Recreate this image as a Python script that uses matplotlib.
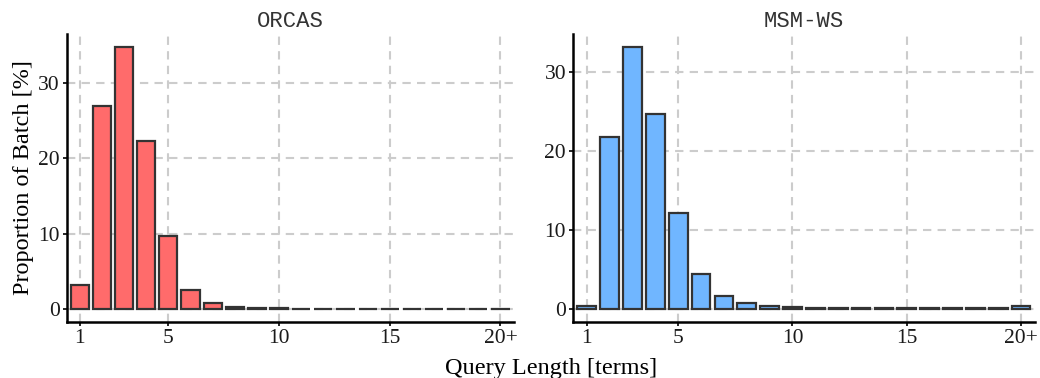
import matplotlib
matplotlib.use('Agg')
import matplotlib.pyplot as plt

# query length buckets 1..19 and 20+
lengths = list(range(1, 21))
tick_pos = [1, 5, 10, 15, 20]
tick_labels = ['1', '5', '10', '15', '20+']

orcas = [3.2, 27.0, 34.8, 22.3, 9.7, 2.5, 0.75, 0.25, 0.12, 0.08,
         0.06, 0.05, 0.05, 0.05, 0.05, 0.05, 0.05, 0.05, 0.05, 0.05]
msmws = [0.35, 21.7, 33.1, 24.7, 12.1, 4.4, 1.7, 0.7, 0.35, 0.2,
         0.12, 0.1, 0.1, 0.1, 0.1, 0.1, 0.1, 0.1, 0.1, 0.4]

titles = ['ORCAS', 'MSM-WS']
fills = ['#ff6b6b', '#70b6ff']
yticks = [0, 10, 20, 30]

serif = 'Liberation Serif'

fig = plt.figure(figsize=(10.4, 3.78), dpi=100)
ax1 = fig.add_axes([0.064, 0.148, 0.430, 0.762])
ax2 = fig.add_axes([0.551, 0.148, 0.444, 0.762])

for ax, vals, title, fc in zip([ax1, ax2], [orcas, msmws], titles, fills):
    ax.set_axisbelow(True)
    ax.bar(lengths, vals, width=0.82, color=fc, edgecolor='#333333',
           linewidth=1.6)
    top = max(vals)
    pad = top * 0.05
    ax.set_ylim(-pad, top + pad)
    ax.set_xlim(0.4, 20.6)
    ax.set_xticks(tick_pos)
    ax.set_xticklabels(tick_labels)
    ax.set_yticks(yticks)
    ax.grid(True, color='#cccccc', linestyle=(0, (4, 3)), linewidth=1.5)
    for side in ['top', 'right']:
        ax.spines[side].set_visible(False)
    for side in ['left', 'bottom']:
        ax.spines[side].set_linewidth(1.8)
        ax.spines[side].set_color('black')
    ax.tick_params(length=3, width=1.2, color='black', labelsize=15.5,
                   pad=2, labelcolor='#1a1a1a')
    for lab in ax.get_xticklabels() + ax.get_yticklabels():
        lab.set_fontfamily(serif)
    ax.set_title(title, family='Liberation Mono', fontsize=16,
                 color='#333333', pad=5)

ax1.set_ylabel('Proportion of Batch [%]', family=serif, fontsize=17.5,
               labelpad=3)
fig.text(0.53, 0.011, 'Query Length [terms]', family=serif, fontsize=17.5,
         ha='center', va='baseline')

fig.savefig('out.png', dpi=100)
